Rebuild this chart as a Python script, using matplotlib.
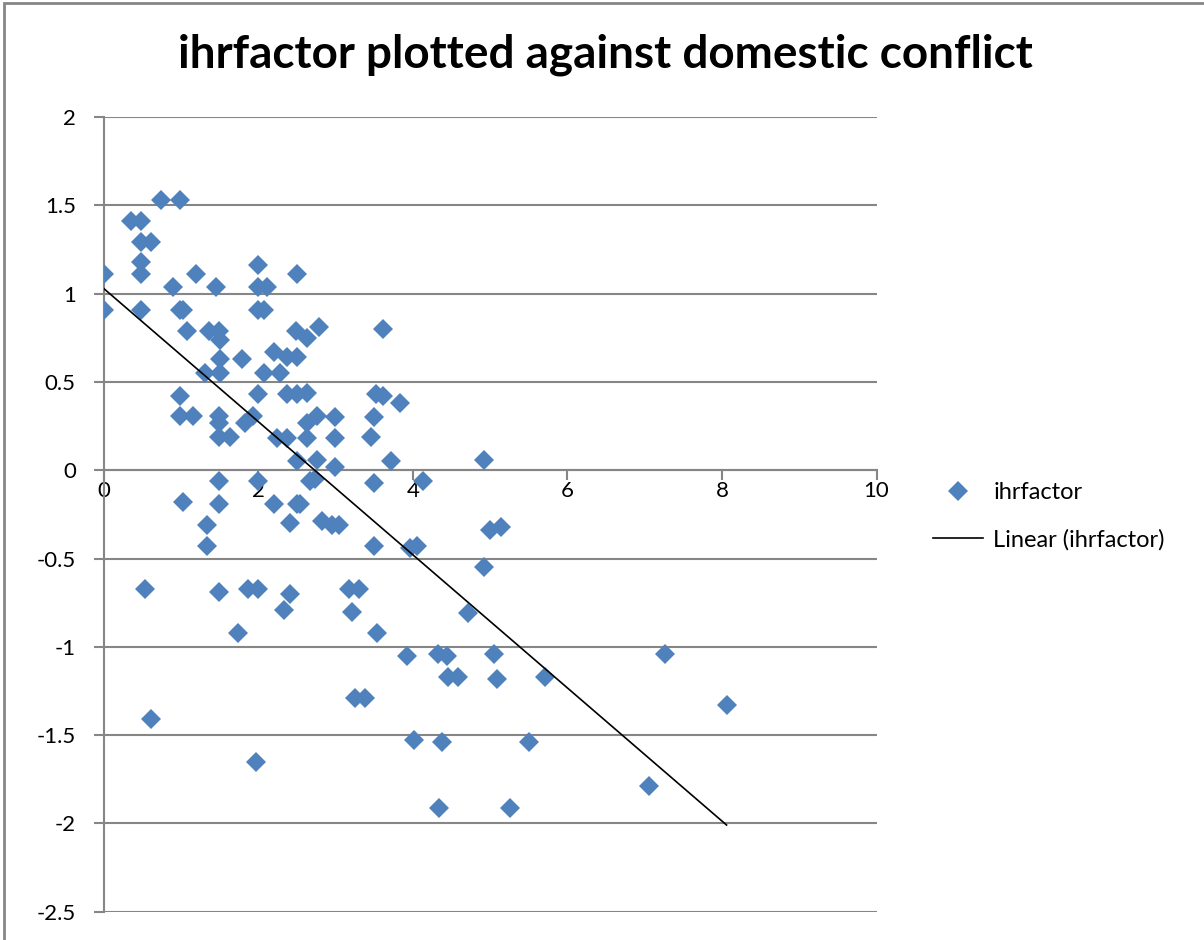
import numpy as np
import matplotlib
matplotlib.use("Agg")
import matplotlib.pyplot as plt
from matplotlib.lines import Line2D
from matplotlib.patches import Rectangle

plt.rcParams['font.family'] = ['Lato', 'DejaVu Sans']

# domestic conflict (x) and ihrfactor (y)
conflict = [0.74, 0.99, 0.36, 0.49, 0.49, 0.62, 0.49, 2.0, 0.0, 0.49,
            1.20, 2.50, 0.90, 1.45, 2.0, 2.12, 0.0, 0.49, 0.99, 1.03,
            2.0, 2.08, 1.08, 1.36, 1.49, 1.51, 2.49, 2.63, 2.79, 3.62,
            2.20, 2.37, 2.50, 1.51, 1.79, 1.31, 1.51, 2.07, 2.28, 0.99,
            2.0, 2.37, 2.50, 2.63, 3.53, 3.62, 3.84, 0.99, 1.16, 1.49,
            1.49, 1.83, 1.94, 2.63, 2.76, 2.99, 3.50, 1.49, 1.64, 2.24,
            2.37, 2.63, 2.99, 3.46, 2.50, 2.76, 2.99, 3.72, 4.92, 1.49,
            2.0, 2.67, 2.74, 3.50, 4.13, 1.03, 1.49, 2.20, 2.50, 2.54,
            1.34, 2.41, 2.82, 2.96, 3.05, 5.0, 5.14, 1.34, 3.50, 3.97,
            4.06, 4.92, 0.54, 1.49, 1.87, 2.0, 2.41, 3.17, 3.30, 2.33,
            3.21, 4.72, 1.74, 3.54, 3.92, 4.33, 4.44, 5.05, 7.26, 4.46,
            4.59, 5.09, 5.71, 3.25, 3.38, 8.06, 0.62, 4.01, 4.38, 5.51,
            1.97, 7.06, 4.34, 5.26]
ihrfactor = [1.53, 1.53, 1.41, 1.41, 1.29, 1.29, 1.18, 1.16, 1.11, 1.11,
             1.11, 1.11, 1.04, 1.04, 1.04, 1.04, 0.91, 0.91, 0.91, 0.91,
             0.91, 0.91, 0.79, 0.79, 0.79, 0.74, 0.79, 0.75, 0.81, 0.80,
             0.67, 0.64, 0.64, 0.63, 0.63, 0.55, 0.55, 0.55, 0.55, 0.42,
             0.43, 0.43, 0.43, 0.44, 0.43, 0.42, 0.38, 0.31, 0.31, 0.31,
             0.27, 0.27, 0.31, 0.27, 0.31, 0.30, 0.30, 0.19, 0.19, 0.18,
             0.18, 0.18, 0.18, 0.19, 0.05, 0.06, 0.02, 0.05, 0.06, -0.06,
             -0.06, -0.06, -0.05, -0.07, -0.06, -0.18, -0.19, -0.19, -0.19, -0.19,
             -0.31, -0.30, -0.29, -0.31, -0.31, -0.34, -0.32, -0.43, -0.43, -0.44,
             -0.43, -0.55, -0.67, -0.69, -0.67, -0.67, -0.70, -0.67, -0.67, -0.79,
             -0.80, -0.81, -0.92, -0.92, -1.05, -1.04, -1.05, -1.04, -1.04, -1.17,
             -1.17, -1.18, -1.17, -1.29, -1.29, -1.33, -1.41, -1.53, -1.54, -1.54,
             -1.65, -1.79, -1.91, -1.91]

# linear trendline as shown on the chart
trend_intercept = 1.03
trend_slope = -0.377

x_ticks = [0, 2, 4, 6, 8, 10]
y_ticks = [2, 1.5, 1, 0.5, 0, -0.5, -1, -1.5, -2, -2.5]

blue = '#4F81BD'
grey = '#868686'

fig = plt.figure(figsize=(12.04, 9.40), dpi=100)
ax = fig.add_axes([0.086, 0.030, 0.642, 0.8455])

ax.plot(conflict, ihrfactor, linestyle='none', marker='D', markersize=10,
        color=blue, markeredgewidth=0, zorder=3)

xs = np.array([min(conflict), max(conflict)])
ax.plot(xs, trend_intercept + trend_slope * xs, color='black', linewidth=1.2, zorder=4)

ax.set_xlim(0, 10)
ax.set_ylim(-2.5, 2)
ax.set_xticks(x_ticks)
ax.set_yticks(y_ticks)
ax.set_xticklabels([str(t) for t in x_ticks])
ax.set_yticklabels([('%g' % t) for t in y_ticks])

ax.yaxis.grid(True, color=grey, linewidth=1.5)
ax.set_axisbelow(True)
for s in ['top', 'right']:
    ax.spines[s].set_visible(False)
ax.spines['left'].set_color(grey)
ax.spines['left'].set_linewidth(1.5)
ax.spines['bottom'].set_position(('data', 0))
ax.spines['bottom'].set_color(grey)
ax.spines['bottom'].set_linewidth(1.5)
ax.tick_params(axis='y', colors=grey, length=7, width=1.5, labelcolor='black',
               labelsize=16, pad=13)
ax.tick_params(axis='x', colors=grey, length=7, width=1.5, labelcolor='black',
               labelsize=16, pad=1)

fig.text(0.503, 0.942, 'ihrfactor plotted against domestic conflict',
         ha='center', va='center', fontsize=33, fontweight='bold')

handles = [Line2D([], [], linestyle='none', marker='D', markersize=10,
                  color=blue, markeredgewidth=0),
           Line2D([], [], color='black', linewidth=1.2)]
fig.legend(handles, ['ihrfactor', 'Linear (ihrfactor)'], frameon=False,
           loc='center left', bbox_to_anchor=(0.775, 0.451), fontsize=17,
           borderpad=0, borderaxespad=0, handlelength=2.1, labelspacing=1.1,
           handletextpad=0.45)

fig.patches.append(Rectangle((0.003, -0.1), 1.2, 1.097, transform=fig.transFigure,
                             fill=False, edgecolor=grey, linewidth=2))

fig.savefig('out.png', dpi=100)
